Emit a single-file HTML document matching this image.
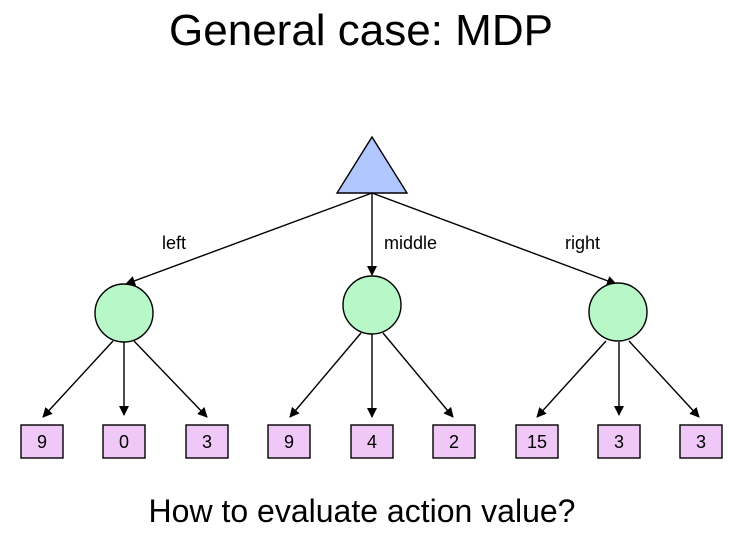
<!DOCTYPE html>
<html><head><meta charset="utf-8"><style>body{margin:0;background:#fff}</style></head><body>
<svg width="729" height="531" xmlns="http://www.w3.org/2000/svg" font-family="Liberation Sans, sans-serif">
<defs><marker id="a" markerWidth="10" markerHeight="10" refX="9" refY="5" orient="auto" markerUnits="userSpaceOnUse"><path d="M0,0 L10,5 L0,10 z" fill="#000"/></marker></defs>
<text x="361" y="45" font-size="44" text-anchor="middle">General case: MDP</text>
<g stroke="#000" stroke-width="1.4" fill="none" marker-end="url(#a)">
<line x1="372" y1="193" x2="126" y2="284"/>
<line x1="372" y1="193" x2="372" y2="275"/>
<line x1="372" y1="193" x2="616" y2="284"/>
<line x1="113" y1="341" x2="43" y2="417"/>
<line x1="124" y1="342" x2="124" y2="415"/>
<line x1="134" y1="341" x2="207" y2="417"/>
<line x1="361" y1="333" x2="290" y2="417"/>
<line x1="372" y1="334" x2="372" y2="417"/>
<line x1="383" y1="333" x2="453" y2="417"/>
<line x1="606" y1="341" x2="537" y2="417"/>
<line x1="619" y1="342" x2="619" y2="415"/>
<line x1="629" y1="341" x2="699" y2="417"/>
</g>
<polygon points="372,137 407,193 337,193" fill="#b0c8ff" stroke="#000" stroke-width="1.4"/>
<g fill="#b8f8c8" stroke="#000" stroke-width="1.4">
<circle cx="124" cy="313" r="29"/><circle cx="372" cy="305" r="29"/><circle cx="618" cy="312" r="29"/>
</g>
<g font-size="18"><text x="162" y="249">left</text><text x="384" y="249">middle</text><text x="565" y="249">right</text></g>
<g fill="#f0c8f8" stroke="#000" stroke-width="1.4">
<rect x="21" y="425" width="42" height="33"/><rect x="103" y="425" width="42" height="33"/><rect x="186" y="425" width="42" height="33"/>
<rect x="268" y="425" width="42" height="33"/><rect x="351" y="425" width="42" height="33"/><rect x="433" y="425" width="42" height="33"/>
<rect x="516" y="425" width="42" height="33"/><rect x="598" y="425" width="42" height="33"/><rect x="680" y="425" width="42" height="33"/>
</g>
<g font-size="18" text-anchor="middle">
<text x="42" y="448">9</text><text x="124" y="448">0</text><text x="207" y="448">3</text>
<text x="289" y="448">9</text><text x="372" y="448">4</text><text x="454" y="448">2</text>
<text x="537" y="448">15</text><text x="619" y="448">3</text><text x="701" y="448">3</text>
</g>
<text x="362" y="522" font-size="32" text-anchor="middle">How to evaluate action value?</text>
</svg>
</body></html>
